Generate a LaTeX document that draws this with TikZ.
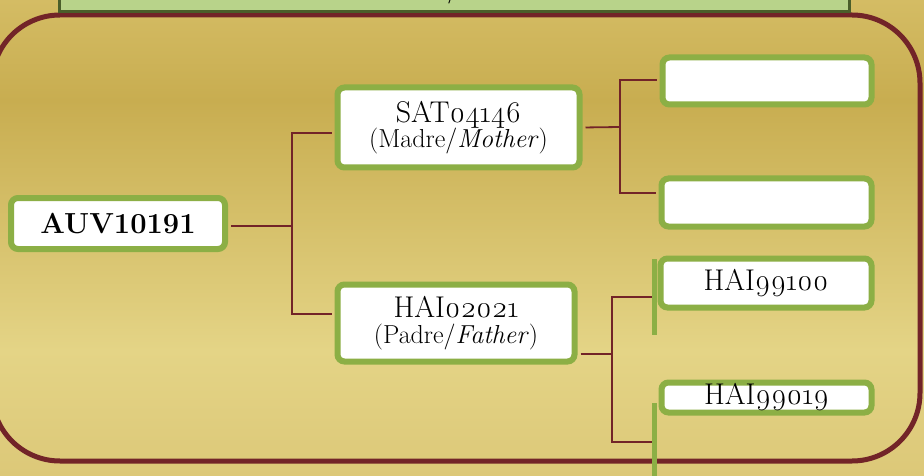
\documentclass[tikz,border=0pt]{standalone}
\usepackage{fontspec}
\setmainfont{Latin Modern Roman}[Numbers=OldStyle]
\newfontfamily\liningfont{Latin Modern Roman}[Numbers=Lining]

\definecolor{framered}{HTML}{722428}
\definecolor{leafgreen}{HTML}{8CAF45}
\definecolor{bannergreen}{HTML}{B8D38A}
\definecolor{banneredge}{HTML}{4A5E2A}
\definecolor{goldtop}{HTML}{D4BC64}
\definecolor{goldmid}{HTML}{C8AD50}
\definecolor{goldlight}{HTML}{E4D486}
\definecolor{goldbottom}{HTML}{DCC878}

\begin{document}
\begin{tikzpicture}[x=1pt, y=-1pt,
    member/.style={draw=leafgreen, line width=6pt, fill=white, rounded corners=7pt,
      inner sep=0pt, align=center, font=\fontsize{30}{30}\selectfont},
    link/.style={draw=framered, line width=1.8pt},
    stub/.style={draw=leafgreen, line width=5pt}]
    \useasboundingbox (0,0) rectangle (924,476);

    % Background bands
    \shade[top color=goldtop, bottom color=goldmid] (0,0) rectangle (924,101);
    \shade[top color=goldmid, bottom color=goldlight] (0,100) rectangle (924,351);
    \shade[top color=goldlight, bottom color=goldbottom] (0,350) rectangle (924,476);

    % Frame and banner
    \draw[framered, line width=5pt, rounded corners=68pt] (-8,15) rectangle (920,461);
    \draw[banneredge, fill=bannergreen, line width=3pt] (59,-10) rectangle (849,12);
    \node[anchor=base, font=\fontsize{30}{30}\selectfont] (slash) at (454,-3) {/};

    % Family members
    \node[member, minimum width=214pt, minimum height=51pt] (auv) at (118,223.5)
        {\fontsize{29}{29}\selectfont\liningfont\bfseries AUV10191};
    \node[member, minimum width=242pt, minimum height=80pt] (sat) at (458.5,127.5)
        {SAT04146\\[-5pt]{\fontsize{26}{26}\selectfont (Madre/\textit{Mother})}};
    \node[member, minimum width=237pt, minimum height=77pt] (hai) at (456,323)
        {HAI02021\\[-4pt]{\fontsize{26}{26}\selectfont (Padre/\textit{Father})}};
    \node[member, minimum width=209pt, minimum height=47pt] (mgs) at (767,81) {};
    \node[member, minimum width=210pt, minimum height=48pt] (mgd) at (766.5,202.5) {};
    \node[member, minimum width=211pt, minimum height=49pt] (fgs) at (766,283) {HAI99100};
    \node[member, minimum width=210pt, minimum height=30pt] (fgd) at (766.5,397.5) {HAI99019};

    % Links between generations
    \coordinate (forkA) at (292,226);
    \coordinate (forkB) at (620,127);
    \coordinate (forkC) at (612,354);
    \coordinate (tailD) at (654,442);
    \draw[link, shorten <=3pt] ([yshift=-2.5pt]auv.east) -- (forkA);
    \draw[link, shorten >=3pt] (forkA) |- ([yshift=-5.5pt]sat.west);
    \draw[link, shorten >=3pt] (forkA) |- ([yshift=9pt]hai.west);
    \draw[link, shorten <=3pt] (sat.east) -- (forkB);
    \draw[link, shorten >=3pt] (forkB) |- ([yshift=1pt]mgs.west);
    \draw[link, shorten >=3pt] (forkB) |- ([yshift=9.5pt]mgd.west);
    \draw[link, shorten <=3pt] ([yshift=-31pt]hai.east) -- (forkC);
    \draw[link, shorten >=3pt] (forkC) |- ([yshift=-14pt]fgs.west);
    \draw[link] (forkC) |- (tailD);

    % Loose green edges
    \draw[stub] (654,259) -- (654,335);
    \draw[stub] (654,403) -- (654,480);
\end{tikzpicture}
\end{document}
